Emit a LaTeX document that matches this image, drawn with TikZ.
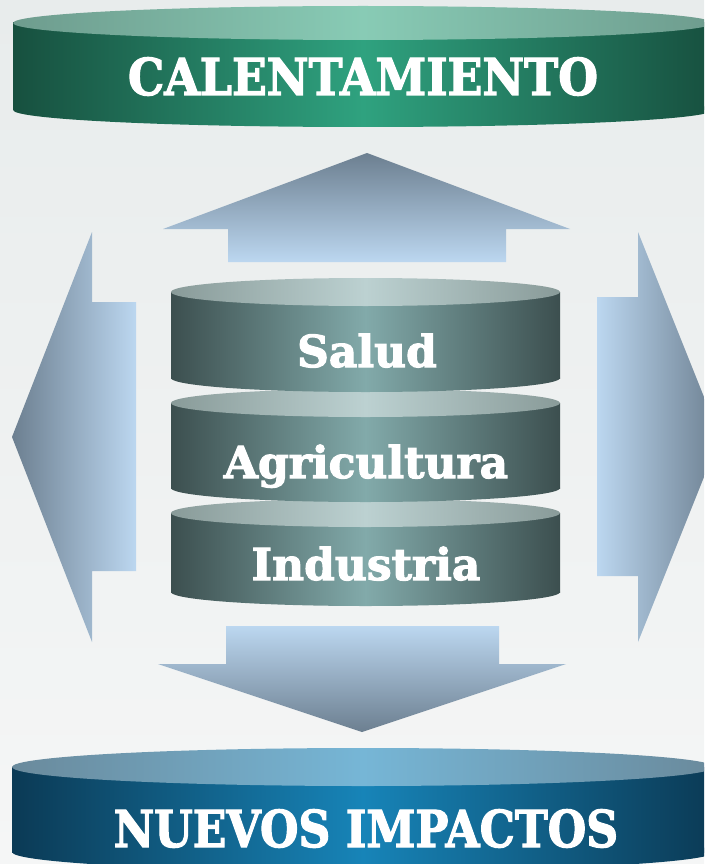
\documentclass[tikz,border=0pt]{standalone}
\usepackage{fontspec}
\setmainfont{DejaVu Serif}
\newfontfamily\heavyfont{DejaVu Serif Bold}[FakeBold=2.4]
\usepackage{graphicx}
\definecolor{bgtop}{HTML}{E8ECEC}
\definecolor{bgbot}{HTML}{F5F6F6}
\definecolor{arrdark}{HTML}{6C7F90}
\definecolor{arrlight}{HTML}{BCD7F0}
\definecolor{gside}{HTML}{17503F}
\definecolor{gmid}{HTML}{2FA27F}
\definecolor{gtope}{HTML}{6E9C8E}
\definecolor{gtopm}{HTML}{88CBB5}
\definecolor{bside}{HTML}{0B3A55}
\definecolor{bmid}{HTML}{1784B8}
\definecolor{btope}{HTML}{6A8A9C}
\definecolor{btopm}{HTML}{76B6D6}
\definecolor{sside}{HTML}{3C4F4F}
\definecolor{smid}{HTML}{82AAAA}
\definecolor{stope}{HTML}{899B99}
\definecolor{stopm}{HTML}{BCD1D1}
\tikzset{
  blockarrow/.style={draw=none},
  titletext/.style={text=white, font=\heavyfont\fontsize{50.8}{52}\selectfont, inner sep=0pt, anchor=base},
  stacktext/.style={text=white, font=\heavyfont\fontsize{44}{46}\selectfont, inner sep=0pt, anchor=base},
}
% cylinder: #1 cx, #2 rx, #3 ytop, #4 ybot, #5 ry, #6 side edge, #7 side mid, #8 top edge, #9 top mid
\newcommand{\mycyl}[9]{%
  \shade[left color=#6, right color=#6, middle color=#7]
    (#1-#2,#3) rectangle (#1+#2,#4);
  \shade[left color=#6, right color=#6, middle color=#7]
    (#1,#4) ellipse [x radius=#2, y radius=#5];
  \shade[left color=#8, right color=#8, middle color=#9]
    (#1,#3) ellipse [x radius=#2, y radius=#5];
}
\begin{document}
\begin{tikzpicture}[x=1pt,y=-1pt]
\clip (0,0) rectangle (704,864);
\fill[top color=bgtop, bottom color=bgbot] (0,0) rectangle (704,864);

% top cylinder
\mycyl{363}{350}{23}{110}{17}{gside}{gmid}{gtope}{gtopm}
% bottom cylinder
\mycyl{363}{351}{767}{852}{19}{bside}{bmid}{btope}{btopm}

% arrows
\shade[blockarrow, top color=arrdark, bottom color=arrlight]
  (367,153) -- (570,229) -- (506,229) -- (506,262) -- (228,262) -- (228,229) -- (163,229) -- cycle;
\shade[blockarrow, top color=arrlight, bottom color=arrdark]
  (226,626) -- (499,626) -- (499,664) -- (566,664) -- (362,732) -- (158,664) -- (226,664) -- cycle;
\shade[blockarrow, left color=arrdark, right color=arrlight]
  (12,437) -- (92,232) -- (92,302) -- (136,302) -- (136,571) -- (92,571) -- (92,642) -- cycle;
\shade[blockarrow, left color=arrlight, right color=arrdark]
  (597,297) -- (638,297) -- (638,232) -- (720,437) -- (638,642) -- (638,576) -- (597,576) -- cycle;

% middle stack
\mycyl{365.5}{194.5}{513}{592}{14}{sside}{smid}{stope}{stopm}
\mycyl{365.5}{194.5}{403}{488}{14}{sside}{smid}{stope}{stopm}
\mycyl{365.5}{194.5}{292}{378}{14}{sside}{smid}{stope}{stopm}

% texts
\node[titletext] (cal) at (363,95) {\scalebox{0.9}[1]{CALENTAMIENTO}};
\node[titletext] (nue) at (366,847) {\scalebox{0.87}[1]{NUEVOS IMPACTOS}};
\node[stacktext] (sal) at (367,367) {Salud};
\node[stacktext] (agr) at (366,478) {Agricultura};
\node[stacktext] (ind) at (366,580) {Industria};
\end{tikzpicture}
\end{document}
